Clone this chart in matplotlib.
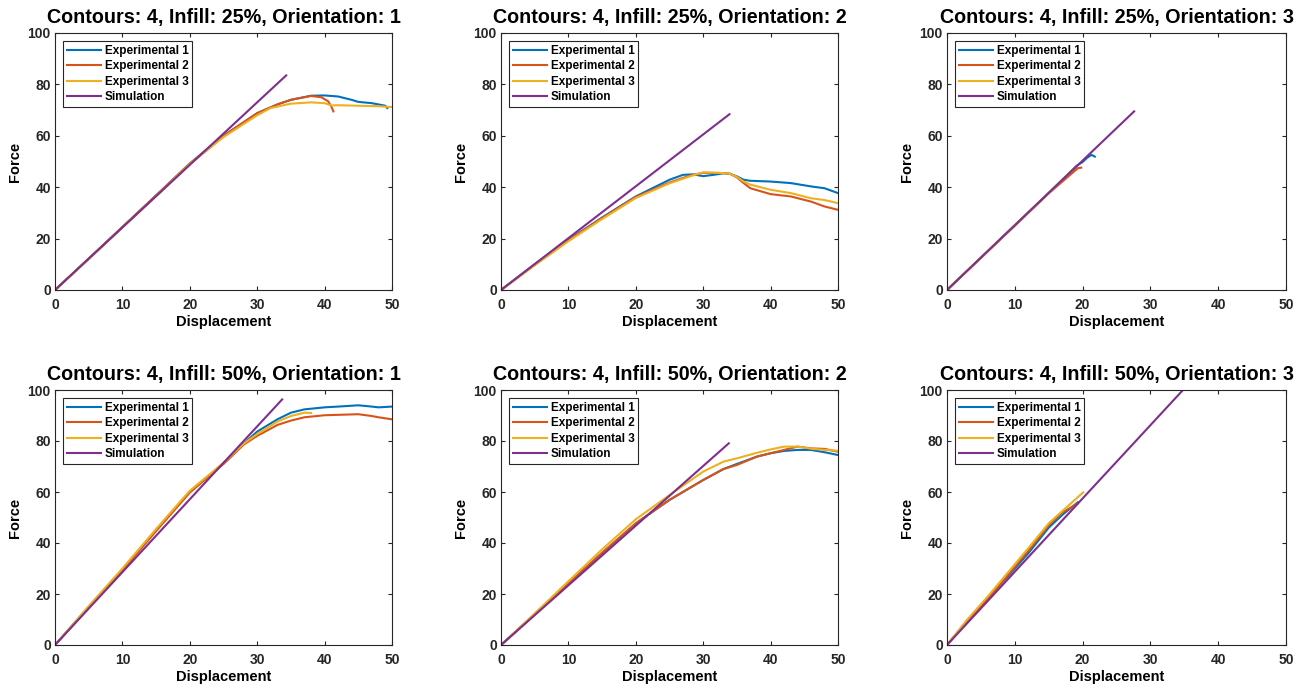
import matplotlib
matplotlib.use("Agg")
import matplotlib.pyplot as plt

plt.rcParams["font.family"] = ["Liberation Sans", "DejaVu Sans"]
plt.rcParams["font.weight"] = "bold"

COLORS = ["#0072BD", "#D95319", "#EDB120", "#7E2F8E"]
LABELS = ["Experimental 1", "Experimental 2", "Experimental 3", "Simulation"]
TITLES = [
    "Contours: 4, Infill: 25%, Orientation: 1",
    "Contours: 4, Infill: 25%, Orientation: 2",
    "Contours: 4, Infill: 25%, Orientation: 3",
    "Contours: 4, Infill: 50%, Orientation: 1",
    "Contours: 4, Infill: 50%, Orientation: 2",
    "Contours: 4, Infill: 50%, Orientation: 3",
]

# panel 1: infill 25%, orientation 1
P1_E1_X = [0, 5, 10, 15, 20, 25, 30, 33, 35, 38, 40, 42, 44, 45, 47, 49, 49.3]
P1_E1_Y = [0, 12.2, 24.5, 36.8, 49.2, 60, 68.8, 72.2, 74, 75.6, 75.7, 75.3, 74, 73.2, 72.7, 71.7, 70.8]
P1_E2_X = [0, 5, 10, 15, 20, 25, 30, 33, 35, 38, 39.5, 40.5, 41, 41.3]
P1_E2_Y = [0, 12.2, 24.5, 36.8, 49.2, 60, 68.8, 72.2, 74, 75.5, 75, 73.5, 71.4, 69.5]
P1_E3_X = [0, 5, 10, 15, 20, 25, 30, 32, 35, 38, 40, 41, 42, 45, 48, 50]
P1_E3_Y = [0, 12, 24.3, 36.5, 49, 59.5, 68, 70.8, 72.5, 73, 72.7, 71.8, 71.9, 71.7, 71.5, 71.2]
P1_SIM_X = [0, 34.3]
P1_SIM_Y = [0, 83.5]

# panel 2: infill 25%, orientation 2
P2_E1_X = [0, 5, 10, 15, 20, 25, 27, 28.5, 30, 31.5, 33, 34, 35, 36, 37, 40, 43, 46, 48, 50]
P2_E1_Y = [0, 10, 19.5, 28.2, 36.4, 42.9, 44.8, 45, 44.3, 44.8, 45.4, 45.2, 44.2, 42.9, 42.5, 42.2, 41.6, 40.3, 39.6, 37.7]
P2_E2_X = [0, 5, 10, 15, 20, 25, 28, 30, 33, 34, 35, 36, 37, 40, 43, 46, 48, 50]
P2_E2_Y = [0, 9.8, 19.3, 28, 36.2, 41.8, 44.5, 45.6, 45.5, 45.2, 43.8, 41.6, 39.6, 37.3, 36.4, 34.4, 32.5, 31.2]
P2_E3_X = [0, 5, 10, 15, 20, 25, 28, 30, 33, 34, 35, 36, 37, 40, 43, 46, 48, 50]
P2_E3_Y = [0, 9.6, 19, 27.6, 35.8, 41.5, 44.2, 45.8, 45.5, 45.2, 44, 42.2, 41, 39, 37.7, 35.7, 35, 33.8]
P2_SIM_X = [0, 33.9]
P2_SIM_Y = [0, 68.4]

# panel 3: infill 25%, orientation 3
P3_E1_X = [0, 5, 10, 15, 19.1, 20, 20.6, 21.3, 21.8]
P3_E1_Y = [0, 12.6, 25.2, 37.8, 48.3, 49.8, 51.3, 52.6, 51.9]
P3_E2_X = [0, 5, 10, 15, 19.3, 19.8]
P3_E2_Y = [0, 12.5, 25.0, 37.6, 47.4, 47.6]
P3_E3_X = [0, 5, 10, 15, 19.0]
P3_E3_Y = [0, 12.5, 25.1, 37.7, 47.9]
P3_SIM_X = [0, 27.6]
P3_SIM_Y = [0, 69.5]

# panel 4: infill 50%, orientation 1
P4_E1_X = [0, 5, 10, 15, 20, 25, 28, 30, 33, 35, 37, 40, 42, 45, 47, 48, 50]
P4_E1_Y = [0, 15, 29.6, 45, 60, 71.2, 79, 83.7, 88.5, 91.1, 92.4, 93.2, 93.5, 94, 93.5, 93.2, 93.5]
P4_E2_X = [0, 5, 10, 15, 20, 25, 28, 30, 33, 35, 37, 40, 45, 47, 48, 50]
P4_E2_Y = [0, 14.7, 29.3, 44.7, 59.8, 71, 78.6, 82, 86.3, 88, 89.3, 90.1, 90.5, 89.8, 89.3, 88.5]
P4_E3_X = [0, 5, 10, 15, 20, 25, 28, 30, 33, 35, 37, 38]
P4_E3_Y = [0, 15.2, 30, 45.5, 60.5, 71.5, 79, 82.7, 87.6, 89.8, 91.1, 91]
P4_SIM_X = [0, 33.7]
P4_SIM_Y = [0, 96.3]

# panel 5: infill 50%, orientation 2
P5_X = [0, 5, 10, 15, 20, 25, 30, 33, 35, 38, 40, 42, 44, 46, 48, 50]
P5_E1_Y = [0, 12, 24.2, 36, 47.7, 56.9, 64.7, 69, 71, 73.9, 75.2, 76.1, 76.5, 76.5, 75.6, 74.5]
P5_E2_Y = [0, 12, 24.2, 36.2, 47.7, 56.9, 64.7, 69, 70.6, 73.9, 75.2, 76.5, 77.8, 77.1, 76.9, 75.8]
P5_E3_Y = [0, 12.4, 25, 37.5, 49.3, 58.8, 68, 71.9, 73.2, 75.4, 76.7, 77.8, 77.8, 77, 76.5, 76.2]
P5_SIM_X = [0, 33.8]
P5_SIM_Y = [0, 79.1]

# panel 6: infill 50%, orientation 3
P6_E1_X = [0, 3, 6, 9, 12, 15, 17, 19.3]
P6_E1_Y = [0, 9.5, 18.5, 27, 36, 46, 51, 56]
P6_E2_X = [0, 3, 6, 9, 12, 15, 17, 19.3]
P6_E2_Y = [0, 9.7, 17.9, 27.5, 37, 47, 52, 55.5]
P6_E3_X = [0, 3, 6, 9, 12, 15, 17, 20.1]
P6_E3_Y = [0, 10, 19, 28.5, 38, 47.7, 52.5, 59.9]
P6_SIM_X = [0, 35.5]
P6_SIM_Y = [0, 102]

PANELS = [
    [(P1_E1_X, P1_E1_Y), (P1_E2_X, P1_E2_Y), (P1_E3_X, P1_E3_Y), (P1_SIM_X, P1_SIM_Y)],
    [(P2_E1_X, P2_E1_Y), (P2_E2_X, P2_E2_Y), (P2_E3_X, P2_E3_Y), (P2_SIM_X, P2_SIM_Y)],
    [(P3_E1_X, P3_E1_Y), (P3_E2_X, P3_E2_Y), (P3_E3_X, P3_E3_Y), (P3_SIM_X, P3_SIM_Y)],
    [(P4_E1_X, P4_E1_Y), (P4_E2_X, P4_E2_Y), (P4_E3_X, P4_E3_Y), (P4_SIM_X, P4_SIM_Y)],
    [(P5_X, P5_E1_Y), (P5_X, P5_E2_Y), (P5_X, P5_E3_Y), (P5_SIM_X, P5_SIM_Y)],
    [(P6_E1_X, P6_E1_Y), (P6_E2_X, P6_E2_Y), (P6_E3_X, P6_E3_Y), (P6_SIM_X, P6_SIM_Y)],
]

W, H = 1308, 687
LEFTS = [55, 501, 947]
WIDTHS = [337, 337, 339]
TOPS = [33, 390]
HEIGHTS = [257, 255]

fig = plt.figure(figsize=(W / 100, H / 100), dpi=100)
AX_COLOR = "#262626"

for i, curves in enumerate(PANELS):
    r, c = divmod(i, 3)
    ax = fig.add_axes([
        LEFTS[c] / W,
        1 - (TOPS[r] + HEIGHTS[r]) / H,
        WIDTHS[c] / W,
        HEIGHTS[r] / H,
    ])
    for (x, y), color, label in zip(curves, COLORS, LABELS):
        ax.plot(x, y, color=color, lw=1.5, label=label)
    ax.set_xlim(0, 50)
    ax.set_ylim(0, 100)
    ax.set_xticks([0, 10, 20, 30, 40, 50])
    ax.set_yticks([0, 20, 40, 60, 80, 100])
    ax.tick_params(direction="in", top=True, right=True, length=3,
                   labelsize=10, colors=AX_COLOR)
    ax.tick_params(axis="x", pad=6)
    ax.tick_params(axis="y", pad=3)
    for s in ax.spines.values():
        s.set_color(AX_COLOR)
        s.set_linewidth(0.8)
    ax.set_title(TITLES[i], fontsize=14.2, fontweight="bold", pad=7)
    ax.set_xlabel("Displacement", fontsize=10.5, fontweight="bold", labelpad=2)
    ax.set_ylabel("Force", fontsize=10.5, fontweight="bold", labelpad=4)
    leg = ax.legend(loc="upper left", fontsize=8.5, frameon=True, fancybox=False,
                    framealpha=1, edgecolor=AX_COLOR, handlelength=2.9,
                    borderaxespad=0.7, labelspacing=0.3, borderpad=0.3,
                    handletextpad=0.3)
    leg.get_frame().set_linewidth(0.8)

fig.savefig("out.png", dpi=100)
